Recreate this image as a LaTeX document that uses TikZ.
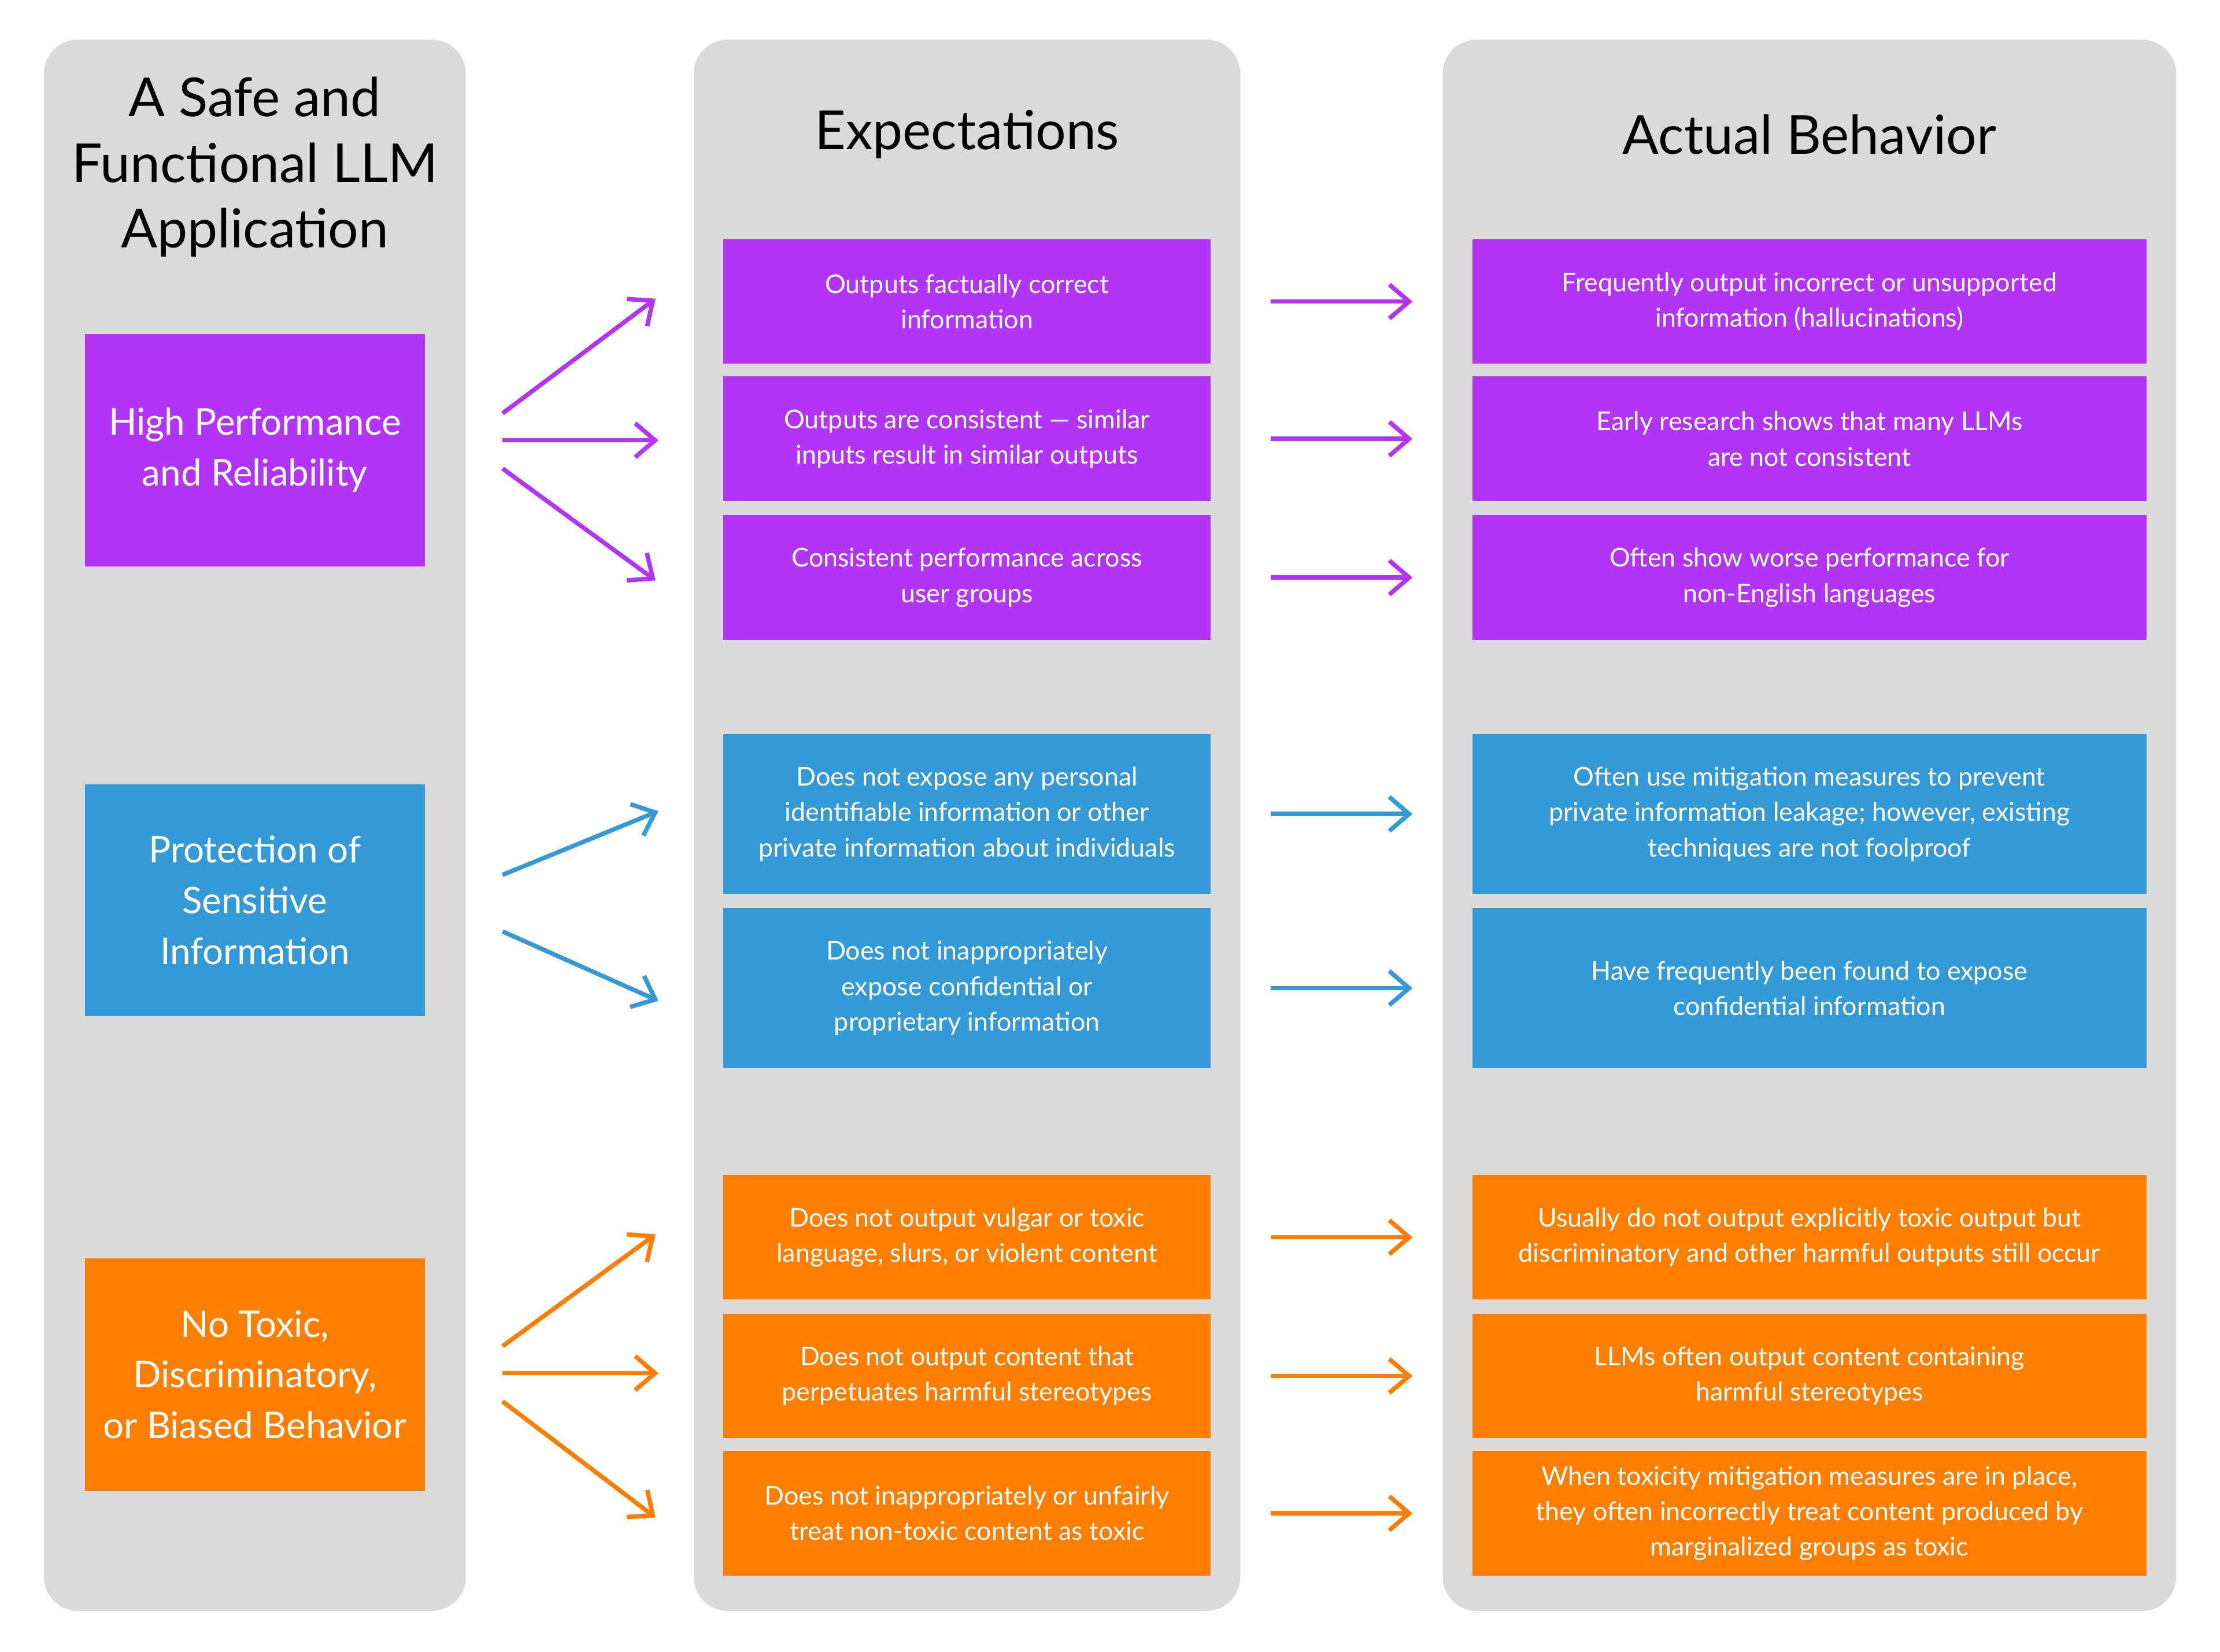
\documentclass[tikz,border=0pt]{standalone}
\usepackage{fontspec}
\setmainfont{Lato}
\usetikzlibrary{arrows.meta}
\definecolor{cpurple}{HTML}{B234F6}
\definecolor{cblue}{HTML}{3399D7}
\definecolor{corange}{HTML}{FF7E00}
\definecolor{cpanel}{HTML}{DADADA}
\begin{document}
\begin{tikzpicture}[x=0.025cm, y=-0.025cm,
    panel/.style = {fill = cpanel, rounded corners = 0.6cm},
    title/.style = {align = center, font = \fontsize{27}{33}\selectfont},
    goal/.style = {minimum width = 6cm, minimum height = 4.1cm, align = center,
        text = white, inner sep = 0pt, font = \fontsize{18.5}{25.5}\selectfont},
    box/.style = {minimum height = 2.2cm, align = center, text = white,
        inner sep = 0pt, font = \fontsize{13}{17.8}\selectfont},
    tall/.style = {box, minimum height = 2.83cm},
    expect/.style = {minimum width = 8.6cm},
    actual/.style = {minimum width = 11.9cm},
    link/.style = {-{Straight Barb[length = 0.35cm, width = 0.6cm]}, line width = 2.2pt}]

    \useasboundingbox (0,0) rectangle (1568,1167);

    % panels
    \fill [panel] (31,28) rectangle (329,1138);
    \fill [panel] (490,28) rectangle (876,1138);
    \fill [panel] (1019,28) rectangle (1537,1138);

    \node [title] (t_1) at (180,118) {A Safe and\\Functional LLM\\Application};
    \node [title] (t_2) at (683,95) {Expectations};
    \node [title] (t_3) at (1278,95) {Actual Behavior};

    % goals
    \node [goal, fill = cpurple] (g_1) at (180,318) {High Performance\\and Reliability};
    \node [goal, fill = cblue] (g_2) at (180,636) {Protection of\\Sensitive\\Information};
    \node [goal, fill = corange] (g_3) at (180,971) {No Toxic,\\Discriminatory,\\or Biased Behavior};

    % expectations
    \node [box, expect, fill = cpurple] (e_1) at (683,213) {Outputs factually correct\\information};
    \node [box, expect, fill = cpurple] (e_2) at (683,310) {Outputs are consistent — similar\\inputs result in similar outputs};
    \node [box, expect, fill = cpurple] (e_3) at (683,408) {Consistent performance across\\user groups};
    \node [tall, expect, fill = cblue] (e_4) at (683,575) {Does not expose any personal\\identifiable information or other\\private information about individuals};
    \node [tall, expect, fill = cblue] (e_5) at (683,698) {Does not inappropriately\\expose confidential or\\proprietary information};
    \node [box, expect, fill = corange] (e_6) at (683,874) {Does not output vulgar or toxic\\language, slurs, or violent content};
    \node [box, expect, fill = corange] (e_7) at (683,972) {Does not output content that\\perpetuates harmful stereotypes};
    \node [box, expect, fill = corange] (e_8) at (683,1069) {Does not inappropriately or unfairly\\treat non-toxic content as toxic};

    % actual behavior
    \node [box, actual, fill = cpurple] (b_1) at (1278,213) {Frequently output incorrect or unsupported\\information (hallucinations)};
    \node [box, actual, fill = cpurple] (b_2) at (1278,310) {Early research shows that many LLMs\\are not consistent};
    \node [box, actual, fill = cpurple] (b_3) at (1278,408) {Often show worse performance for\\non-English languages};
    \node [tall, actual, fill = cblue] (b_4) at (1278,575) {Often use mitigation measures to prevent\\private information leakage; however, existing\\techniques are not foolproof};
    \node [tall, actual, fill = cblue] (b_5) at (1278,698) {Have frequently been found to expose\\confidential information};
    \node [box, actual, fill = corange] (b_6) at (1278,874) {Usually do not output explicitly toxic output but\\discriminatory and other harmful outputs still occur};
    \node [box, actual, fill = corange] (b_7) at (1278,972) {LLMs often output content containing\\harmful stereotypes};
    \node [box, actual, fill = corange] (b_8) at (1278,1069) {When toxicity mitigation measures are in place,\\they often incorrectly treat content produced by\\marginalized groups as toxic};

    % arrow ends
    \coordinate (s_1) at (355,292); \coordinate (d_1) at (463,211);
    \coordinate (s_2) at (355,311); \coordinate (d_2) at (465,311);
    \coordinate (s_3) at (355,331); \coordinate (d_3) at (463,410);
    \coordinate (s_4) at (355,618); \coordinate (d_4) at (465,573);
    \coordinate (s_5) at (355,658); \coordinate (d_5) at (465,707);
    \coordinate (s_6) at (355,951); \coordinate (d_6) at (463,872);
    \coordinate (s_7) at (355,970); \coordinate (d_7) at (465,970);
    \coordinate (s_8) at (355,990); \coordinate (d_8) at (463,1072);

    \draw [link, cpurple] (s_1) -- (d_1);
    \draw [link, cpurple] (s_2) -- (d_2);
    \draw [link, cpurple] (s_3) -- (d_3);
    \draw [link, cblue] (s_4) -- (d_4);
    \draw [link, cblue] (s_5) -- (d_5);
    \draw [link, corange] (s_6) -- (d_6);
    \draw [link, corange] (s_7) -- (d_7);
    \draw [link, corange] (s_8) -- (d_8);

    \draw [link, cpurple] ([xshift = 1.05cm] e_1.east) -- ([xshift = -1.05cm] b_1.west);
    \draw [link, cpurple] ([xshift = 1.05cm] e_2.east) -- ([xshift = -1.05cm] b_2.west);
    \draw [link, cpurple] ([xshift = 1.05cm] e_3.east) -- ([xshift = -1.05cm] b_3.west);
    \draw [link, cblue] ([xshift = 1.05cm] e_4.east) -- ([xshift = -1.05cm] b_4.west);
    \draw [link, cblue] ([xshift = 1.05cm] e_5.east) -- ([xshift = -1.05cm] b_5.west);
    \draw [link, corange] ([xshift = 1.05cm] e_6.east) -- ([xshift = -1.05cm] b_6.west);
    \draw [link, corange] ([xshift = 1.05cm] e_7.east) -- ([xshift = -1.05cm] b_7.west);
    \draw [link, corange] ([xshift = 1.05cm] e_8.east) -- ([xshift = -1.05cm] b_8.west);
\end{tikzpicture}
\end{document}
